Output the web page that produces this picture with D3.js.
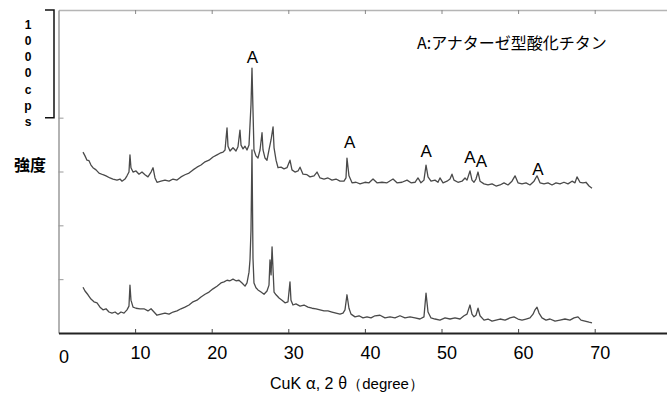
<!DOCTYPE html>
<html>
<head>
<meta charset="utf-8">
<script src="https://cdn.jsdelivr.net/npm/d3@7"></script>
<style>
  body { margin: 0; background: #fff; }
  svg { display: block; }
</style>
</head>
<body>
<svg id="xrd"></svg>
<script>
// scan traces: [2theta (deg), intensity (cps, offset included)]
const upperScan = [
  [3.2,1680],[3.46,1645],[3.72,1605],[3.98,1600],[4.24,1560],[4.5,1535],[4.9,1515],[5.29,1485],[5.81,1470],[6.2,1460],
  [6.72,1440],[7.11,1430],[7.64,1420],[8.03,1430],[8.29,1410],[8.68,1430],[8.94,1460],[9.2,1495],[9.33,1655],[9.46,1535],
  [9.73,1495],[10.12,1505],[10.51,1475],[10.9,1495],[11.29,1470],[11.68,1450],[12.08,1495],[12.34,1535],[12.6,1440],[12.86,1400],
  [13.38,1410],[13.9,1420],[14.43,1410],[14.95,1430],[15.47,1420],[15.99,1450],[16.51,1470],[17.04,1485],[17.56,1515],[18.08,1540],
  [18.6,1560],[19.13,1590],[19.65,1605],[20.17,1635],[20.69,1655],[21.08,1670],[21.48,1680],[21.74,1700],[22.0,1905],[22.13,1735],
  [22.39,1690],[22.78,1720],[23.17,1690],[23.43,1730],[23.69,1885],[23.83,1745],[24.09,1710],[24.35,1735],[24.61,1700],[24.87,1745],
  [25.13,2120],[25.26,2460],[25.39,2070],[25.52,1700],[25.78,1645],[26.04,1625],[26.31,1700],[26.57,1860],[26.7,1700],[26.96,1625],
  [27.22,1605],[27.48,1700],[27.75,1795],[28.01,1915],[28.14,1720],[28.4,1605],[28.66,1535],[29.05,1540],[29.44,1525],[29.83,1535],
  [30.22,1605],[30.48,1515],[30.87,1495],[31.27,1505],[31.53,1540],[31.92,1475],[32.44,1470],[32.83,1450],[33.36,1460],[33.75,1495],
  [34.14,1440],[34.66,1430],[35.18,1440],[35.7,1420],[36.23,1430],[36.75,1410],[37.27,1410],[37.53,1440],[37.66,1625],[37.92,1460],
  [38.32,1395],[38.84,1400],[39.36,1385],[40.01,1400],[40.54,1395],[41.06,1430],[41.58,1395],[42.23,1400],[42.89,1395],[43.67,1430],
  [44.19,1395],[44.84,1400],[45.5,1420],[46.02,1395],[46.54,1400],[46.93,1440],[47.32,1395],[47.71,1420],[47.98,1560],[48.24,1450],
  [48.63,1410],[49.15,1420],[49.54,1400],[49.8,1440],[50.2,1395],[50.72,1410],[51.11,1430],[51.37,1475],[51.63,1420],[52.15,1400],
  [52.68,1410],[53.07,1440],[53.33,1420],[53.72,1505],[53.98,1420],[54.24,1400],[54.5,1430],[54.77,1495],[55.03,1410],[55.55,1385],
  [56.07,1375],[56.6,1385],[57.12,1365],[57.64,1375],[58.16,1395],[58.68,1375],[59.2,1410],[59.6,1460],[59.99,1395],[60.51,1385],
  [61.03,1395],[61.55,1375],[62.08,1410],[62.47,1460],[62.86,1395],[63.38,1385],[63.9,1395],[64.43,1375],[64.95,1395],[65.47,1385],
  [65.99,1400],[66.51,1385],[67.04,1410],[67.43,1395],[67.69,1450],[68.08,1400],[68.47,1395],[68.86,1400],[69.26,1365],[69.65,1345]
];

const lowerScan = [
  [3.2,425],[3.46,390],[3.85,355],[4.24,315],[4.63,290],[5.03,280],[5.42,240],[5.81,215],[6.2,225],[6.59,195],
  [6.98,185],[7.38,195],[7.77,175],[8.16,195],[8.55,185],[8.94,215],[9.2,250],[9.33,445],[9.46,305],[9.73,240],
  [10.12,230],[10.64,225],[11.16,225],[11.68,205],[12.08,225],[12.47,195],[12.86,165],[13.38,175],[13.9,185],[14.43,175],
  [14.95,195],[15.47,205],[15.99,225],[16.51,240],[17.04,260],[17.56,290],[18.08,305],[18.6,335],[19.13,360],[19.65,380],
  [20.17,410],[20.69,435],[21.21,465],[21.61,475],[22.0,490],[22.39,485],[22.78,500],[23.17,485],[23.56,490],[23.96,465],
  [24.35,435],[24.61,465],[24.87,565],[25.0,680],[25.13,955],[25.26,1700],[25.39,695],[25.52,465],[25.78,420],[26.04,400],
  [26.44,380],[26.83,360],[27.22,390],[27.48,445],[27.61,680],[27.75,540],[27.88,800],[28.01,585],[28.14,380],[28.4,355],
  [28.79,325],[29.18,305],[29.57,280],[29.96,290],[30.22,475],[30.35,305],[30.61,260],[31.0,270],[31.53,250],[32.05,260],
  [32.57,240],[33.1,230],[33.62,225],[34.14,215],[34.66,205],[35.18,205],[35.7,195],[36.23,185],[36.75,175],[37.14,185],
  [37.4,215],[37.66,355],[37.92,230],[38.19,175],[38.71,150],[39.23,160],[39.75,140],[40.27,150],[40.8,140],[41.32,160],
  [41.97,165],[42.62,140],[43.28,150],[43.93,140],[44.58,160],[45.23,140],[45.89,150],[46.54,140],[47.19,130],[47.71,150],
  [47.98,370],[48.24,195],[48.63,140],[49.15,130],[49.8,120],[50.46,140],[51.11,130],[51.76,140],[52.42,130],[52.94,160],
  [53.33,175],[53.72,260],[53.98,175],[54.24,150],[54.5,165],[54.77,230],[55.03,160],[55.55,120],[56.07,130],[56.6,110],
  [57.12,120],[57.64,130],[58.3,120],[58.94,140],[59.46,150],[59.99,130],[60.51,120],[61.03,130],[61.55,140],[61.95,175],
  [62.21,215],[62.47,240],[62.73,185],[63.12,140],[63.64,120],[64.17,130],[64.82,110],[65.47,120],[66.12,130],[66.77,120],
  [67.3,140],[67.82,150],[68.21,120],[68.73,110],[69.26,100],[69.65,95]
];

// anatase peak marks
const peakTheta = [25.3, 38.0, 48.0, 53.7, 55.2, 62.6];
const peakLabelCps = [2510, 1720, 1635, 1580, 1540, 1470];

const xTicks = [0, 10, 20, 30, 40, 50, 60, 70];
const yTicks = [500, 1000, 1500, 2000];
const scaleBar = [2000, 3000]; // 1000 cps bracket
const scaleBarText = ["1", "0", "0", "0", "c", "p", "s"];

const width = 667, height = 394;
const svg = d3.select("#xrd").attr("width", width).attr("height", height);

const x = d3.scaleLinear().domain([0, 80]).range([58.5, 671.3]);
const y = d3.scaleLinear().domain([0, 3000]).range([333, 10]);

// frame: top and left lines, light grey
svg.append("g")
  .attr("transform", "translate(0," + y(3000) + ")")
  .call(d3.axisBottom(x).tickValues(xTicks.slice(1)).tickSizeInner(4).tickSizeOuter(0).tickFormat(""))
  .call(g => g.select(".domain").attr("stroke", "#b5b5b5").attr("stroke-width", 1.5))
  .call(g => g.selectAll(".tick line").attr("stroke", "#888"));

svg.append("g")
  .attr("transform", "translate(" + x(0) + ",0)")
  .call(d3.axisRight(y).tickValues(yTicks).tickSizeInner(5).tickSizeOuter(0).tickFormat(""))
  .call(g => g.select(".domain").attr("stroke", "#9a9a9a").attr("stroke-width", 1.5))
  .call(g => g.selectAll(".tick line").attr("stroke", "#999"));

// bottom axis, dark, with labels
const xAxis = svg.append("g")
  .attr("transform", "translate(0," + y(0) + ")")
  .call(d3.axisBottom(x).tickValues(xTicks).tickSizeInner(-4).tickSizeOuter(0).tickPadding(13).tickFormat(d3.format("d")));
xAxis.select(".domain").attr("stroke", "#222").attr("stroke-width", 2);
xAxis.selectAll(".tick line").attr("stroke", "#444");
xAxis.selectAll(".tick").filter(d => d === 0).select("line").remove();
xAxis.selectAll(".tick text")
  .attr("dx", 5)
  .attr("fill", "#000")
  .style("font-family", "'Liberation Sans', Arial, sans-serif")
  .style("font-size", "18px");
xAxis.selectAll(".tick").filter(d => d === 0).select("text").attr("dy", "0.95em");

// traces
const line = d3.line().x(d => x(d[0])).y(d => y(d[1]));
[upperScan, lowerScan].forEach(scan => {
  svg.append("path")
    .datum(scan)
    .attr("fill", "none")
    .attr("stroke", "#4a4a4a")
    .attr("stroke-width", 1.3)
    .attr("stroke-linejoin", "round")
    .attr("d", line);
});

// peak labels
svg.append("g").selectAll("text")
  .data(peakTheta)
  .enter()
  .append("text")
  .attr("x", d => x(d))
  .attr("y", (d, i) => y(peakLabelCps[i]))
  .attr("text-anchor", "middle")
  .style("font-family", "'Liberation Sans', Arial, sans-serif")
  .style("font-size", "17px")
  .text("A");

// legend note
svg.append("text")
  .attr("x", 417)
  .attr("y", 48.5)
  .style("font-family", "'Noto Sans CJK JP', sans-serif")
  .style("font-size", "16px")
  .text("A:アナターゼ型酸化チタン");

// 1000 cps scale bracket
const bx = 54;
svg.append("path")
  .attr("fill", "none")
  .attr("stroke", "#111")
  .attr("stroke-width", 1.5)
  .attr("d", "M" + (bx - 9) + "," + y(scaleBar[1]) + "H" + bx + "V" + y(scaleBar[0]) + "H" + (bx - 9));

svg.append("g").selectAll("text")
  .data(scaleBarText)
  .enter()
  .append("text")
  .attr("x", 28)
  .attr("y", (d, i) => 28.5 + i * 16.3)
  .attr("text-anchor", "middle")
  .style("font-family", "'Liberation Sans', Arial, sans-serif")
  .style("font-size", "12px")
  .style("font-weight", "bold")
  .text(d => d);

// axis titles
svg.append("text")
  .attr("x", 30)
  .attr("y", 171)
  .attr("text-anchor", "middle")
  .style("font-family", "'Noto Sans CJK JP', sans-serif")
  .style("font-size", "16px")
  .style("font-weight", "bold")
  .text("強度");

const xt = svg.append("text")
  .attr("x", 347)
  .attr("y", 389)
  .attr("text-anchor", "middle")
  .style("font-family", "'Liberation Sans', Arial, sans-serif")
  .style("font-size", "16px");
xt.append("tspan").text("CuK ");
xt.append("tspan").style("font-family", "'Noto Sans CJK JP', sans-serif").text("α");
xt.append("tspan").text(", 2 ");
xt.append("tspan").style("font-family", "'Noto Sans CJK JP', sans-serif").text("θ");
xt.append("tspan").style("font-size", "15px").text("（degree）");
</script>
</body>
</html>
